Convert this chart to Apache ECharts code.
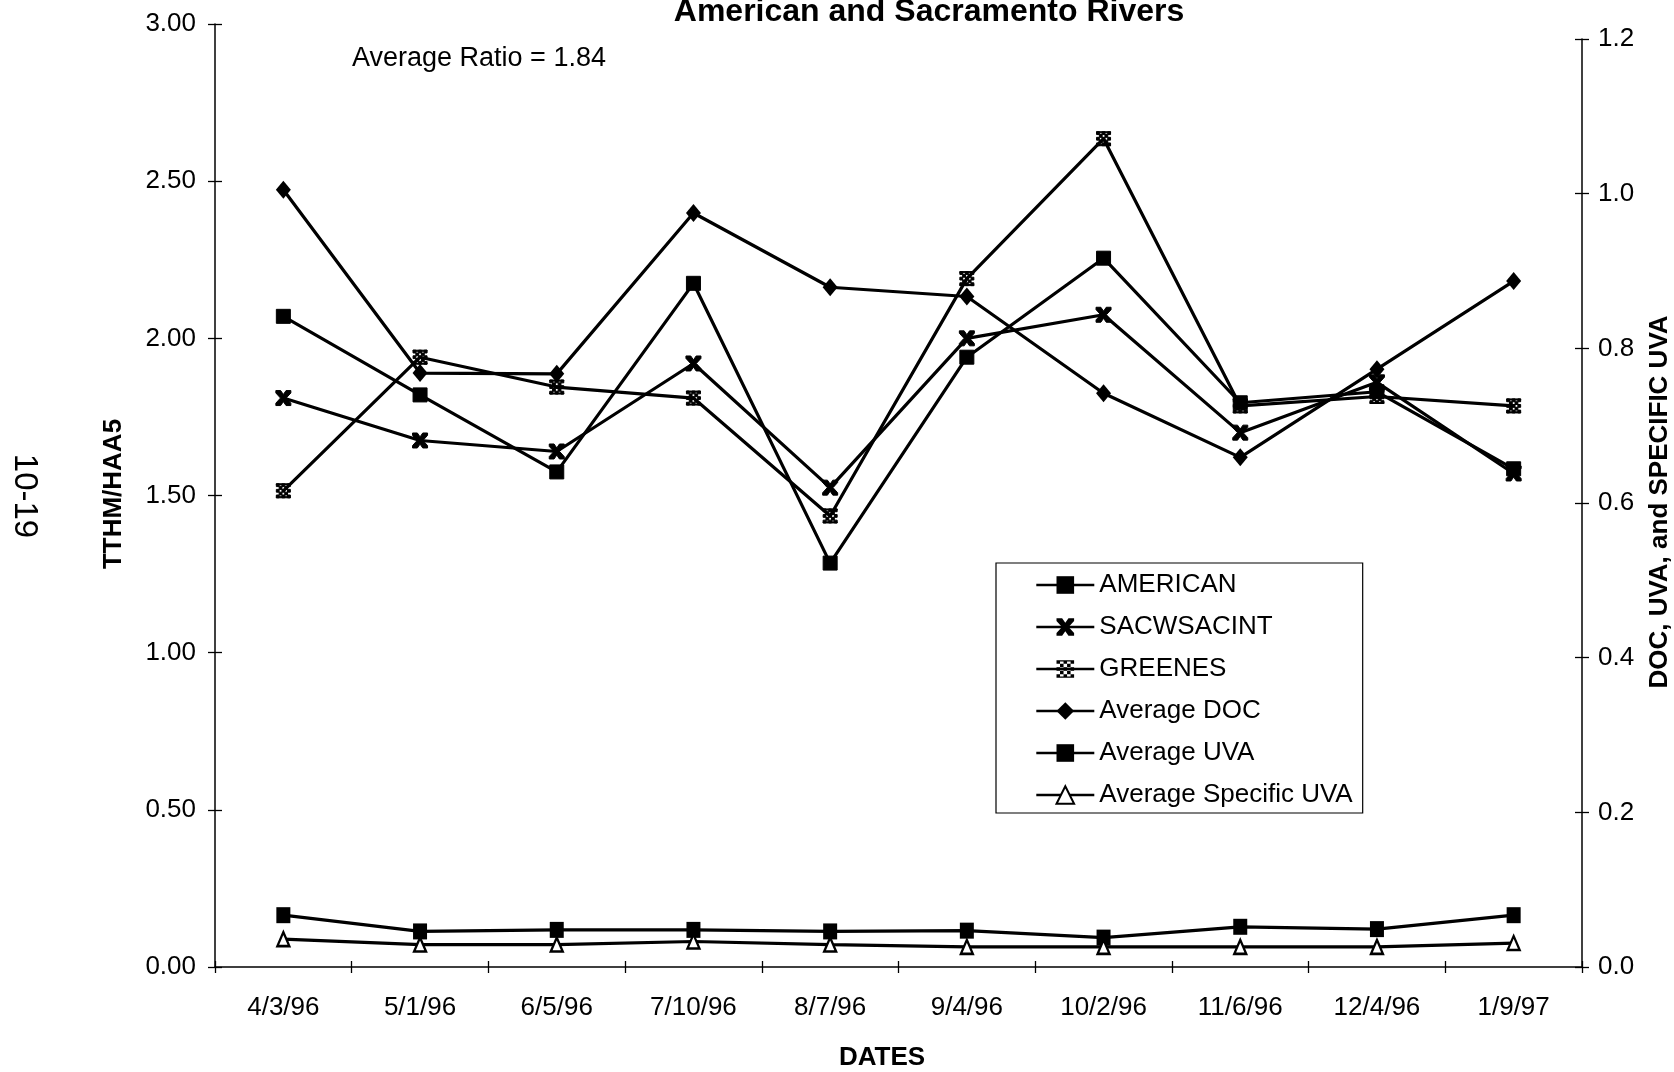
<!DOCTYPE html>
<html>
<head>
<meta charset="utf-8">
<title>TTHM/HAA5 ratio — American and Sacramento Rivers</title>
<script src="https://cdn.jsdelivr.net/npm/echarts@6/dist/echarts.min.js"></script>
<style>
  html, body { margin: 0; padding: 0; background: #fff; }
  #chart { width: 1674px; height: 1072px; }
</style>
</head>
<body>
<div id="chart"></div>
<script>
// Sampling dates
const categories = ['4/3/96', '5/1/96', '6/5/96', '7/10/96', '8/7/96', '9/4/96', '10/2/96', '11/6/96', '12/4/96', '1/9/97'];

// TTHM/HAA5 ratios (left axis)
const american   = [2.07, 1.82, 1.575, 2.175, 1.285, 1.94, 2.255, 1.795, 1.83, 1.585];
const sacwsacint = [1.81, 1.675, 1.64, 1.92, 1.525, 2.00, 2.075, 1.70, 1.86, 1.57];
const greenes    = [1.515, 1.94, 1.845, 1.81, 1.435, 2.19, 2.635, 1.785, 1.815, 1.785];

// DOC, UVA and specific UVA (right axis)
const avgDoc  = [1.005, 0.768, 0.767, 0.975, 0.879, 0.867, 0.742, 0.659, 0.773, 0.887];
const avgUva  = [0.067, 0.046, 0.048, 0.048, 0.046, 0.047, 0.038, 0.052, 0.049, 0.067];
const avgSuva = [0.036, 0.029, 0.029, 0.033, 0.029, 0.026, 0.026, 0.026, 0.026, 0.031];

// Axis tick labels
const leftTicks  = ['0.00', '0.50', '1.00', '1.50', '2.00', '2.50', '3.00'];
const rightTicks = ['0.0', '0.2', '0.4', '0.6', '0.8', '1.0', '1.2'];

const FONT = '"Liberation Sans", Arial, sans-serif';

// Marker shapes: bow-tie cross for SACWSACINT, checkered block for GREENES
const xMark = 'path://M0,0 L3.2,0 L5,2.6 L6.8,0 L10,0 L10,1.6 L6.9,5 L10,8.4 L10,10 L6.8,10 L5,7.4 L3.2,10 L0,10 L0,8.4 L3.1,5 L0,1.6 Z';
const hatchMark = (function () {
  let d = 'path://M0,0 L10,0 L10,0.8 L0,0.8 Z M0,9.2 L10,9.2 L10,10 L0,10 Z ';
  for (let i = 0; i < 5; i++) {
    for (let j = 0; j < 5; j++) {
      if ((i + j) % 2 === 0) {
        d += 'M' + (i * 2) + ',' + (j * 2) + ' L' + (i * 2 + 2) + ',' + (j * 2) + ' L' + (i * 2 + 2) + ',' + (j * 2 + 2) + ' L' + (i * 2) + ',' + (j * 2 + 2) + ' Z ';
      }
    }
  }
  return d.trim();
})();

const lineStyle = { color: '#000', width: 3.2 };

function ratioSeries(name, data, symbol, size) {
  return {
    name, type: 'line', data,
    xAxisIndex: 0, yAxisIndex: 0,
    symbol, symbolSize: size,
    lineStyle, itemStyle: { color: '#000', borderColor: '#000' },
    emphasis: { disabled: true }, animation: false
  };
}
function waterSeries(name, data, symbol, size, itemStyle) {
  return {
    name, type: 'line', data,
    xAxisIndex: 1, yAxisIndex: 2,
    symbol, symbolSize: size,
    lineStyle, itemStyle,
    emphasis: { disabled: true }, animation: false
  };
}

const axisLine = { show: true, lineStyle: { color: '#000', width: 1.5 } };
const tickStyle = { color: '#000', width: 1.3 };

const chart = echarts.init(document.getElementById('chart'), null, { renderer: 'canvas' });
chart.setOption({
  backgroundColor: '#fff',
  animation: false,
  textStyle: { fontFamily: FONT, color: '#000' },
  grid: [
    { left: 215, right: 92, top: 24, bottom: 105 },
    { left: 215, right: 92, top: 39, bottom: 105 }
  ],
  xAxis: [
    {
      type: 'category', data: categories, gridIndex: 0, boundaryGap: true,
      axisLine, axisTick: { show: true, inside: false, length: 6, lineStyle: tickStyle },
      axisLabel: { color: '#000', fontSize: 26, fontFamily: FONT, margin: 28, interval: 0 },
      splitLine: { show: false }
    },
    { type: 'category', data: categories, gridIndex: 1, boundaryGap: true, show: false },
    {
      type: 'category', data: categories, gridIndex: 0, boundaryGap: true, position: 'bottom', offset: 0,
      axisLine: { show: false }, axisTick: { show: true, inside: true, length: 6, lineStyle: tickStyle },
      axisLabel: { show: false }, splitLine: { show: false }
    }
  ],
  yAxis: [
    {
      type: 'value', gridIndex: 0, position: 'left', offset: 0, min: 0, max: 3, interval: 0.5,
      axisLine, axisTick: { show: true, inside: false, length: 7, lineStyle: tickStyle },
      axisLabel: { color: '#000', fontSize: 26, fontFamily: FONT, margin: 19,
        formatter: (v) => leftTicks[Math.round(v / 0.5)] },
      splitLine: { show: false }
    },
    {
      type: 'value', gridIndex: 0, position: 'left', offset: 0, min: 0, max: 3, interval: 0.5,
      axisLine: { show: false }, axisTick: { show: true, inside: true, length: 7, lineStyle: tickStyle },
      axisLabel: { show: false }, splitLine: { show: false }
    },
    {
      type: 'value', gridIndex: 1, position: 'right', offset: 0, min: 0, max: 1.2, interval: 0.2,
      axisLine, axisTick: { show: true, inside: false, length: 7, lineStyle: tickStyle },
      axisLabel: { color: '#000', fontSize: 26, fontFamily: FONT, margin: 16,
        formatter: (v) => rightTicks[Math.round(v / 0.2)] },
      splitLine: { show: false }
    },
    {
      type: 'value', gridIndex: 1, position: 'right', offset: 0, min: 0, max: 1.2, interval: 0.2,
      axisLine: { show: false }, axisTick: { show: true, inside: true, length: 7, lineStyle: tickStyle },
      axisLabel: { show: false }, splitLine: { show: false }
    }
  ],
  legend: {
    orient: 'vertical', left: 996, top: 563,
    itemWidth: 58, itemHeight: 22, itemGap: 16,
    padding: [9, 10, 5, 39],
    borderColor: '#000', borderWidth: 1.2,
    selectedMode: false,
    lineStyle: { width: 2.6 },
    textStyle: { fontSize: 26, lineHeight: 26, color: '#000', fontFamily: FONT },
    data: ['AMERICAN', 'SACWSACINT', 'GREENES', 'Average DOC', 'Average UVA', 'Average Specific UVA']
  },
  series: [
    ratioSeries('AMERICAN', american, 'rect', 14),
    ratioSeries('SACWSACINT', sacwsacint, xMark, 15),
    ratioSeries('GREENES', greenes, hatchMark, 14),
    waterSeries('Average DOC', avgDoc, 'diamond', [15, 18], { color: '#000' }),
    waterSeries('Average UVA', avgUva, 'rect', [14, 16], { color: '#000' }),
    waterSeries('Average Specific UVA', avgSuva, 'triangle', [12, 14], { color: '#fff', borderColor: '#000', borderWidth: 2.4 })
  ],
  graphic: [
    { type: 'text', x: 929, y: 12, style: { text: 'American and Sacramento Rivers', font: 'bold 32px ' + FONT, fill: '#000', align: 'center', verticalAlign: 'middle' } },
    { type: 'text', x: 352, y: 59, style: { text: 'Average Ratio = 1.84', font: '27px ' + FONT, fill: '#000', align: 'left', verticalAlign: 'middle' } },
    { type: 'text', x: 882, y: 1058, style: { text: 'DATES', font: 'bold 26px ' + FONT, fill: '#000', align: 'center', verticalAlign: 'middle' } },
    { type: 'text', x: 114, y: 494, rotation: Math.PI / 2, style: { text: 'TTHM/HAA5', font: 'bold 26px ' + FONT, fill: '#000', align: 'center', verticalAlign: 'middle' } },
    { type: 'text', x: 1660, y: 502, rotation: Math.PI / 2, style: { text: 'DOC, UVA, and SPECIFIC UVA', font: 'bold 26px ' + FONT, fill: '#000', align: 'center', verticalAlign: 'middle' } },
    { type: 'text', x: 24, y: 496, rotation: -Math.PI / 2, style: { text: '10-19', font: '33px ' + FONT, fill: '#000', align: 'center', verticalAlign: 'middle' } }
  ]
});
</script>
</body>
</html>
